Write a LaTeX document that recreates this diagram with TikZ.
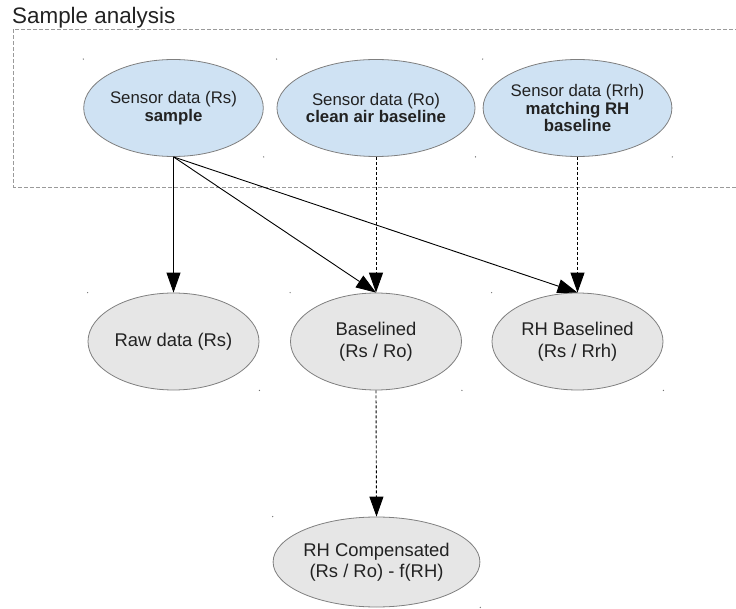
\documentclass[tikz,border=0pt]{standalone}
\usepackage{fontspec}
\setmainfont{Liberation Sans}
\usetikzlibrary{arrows.meta,shapes.geometric}
\definecolor{topfill}{HTML}{CFE2F3}
\definecolor{botfill}{HTML}{E6E6E6}
\definecolor{rim}{HTML}{7F7F7F}
\definecolor{boxline}{HTML}{9A9A9A}
\definecolor{ink}{HTML}{222222}
\begin{document}
\begin{tikzpicture}[x=1pt,y=-1pt,
  src/.style={ellipse, draw=rim, line width=0.8pt, fill=topfill,
    minimum width=171pt, minimum height=97pt, inner sep=0pt, align=center,
    font=\fontsize{16.8}{17.5}\selectfont, text=ink},
  res/.style={ellipse, draw=rim, line width=0.8pt, fill=botfill,
    minimum width=171pt, minimum height=97pt, inner sep=0pt, align=center,
    font=\fontsize{18.4}{21.5}\selectfont, text=ink},
  flow/.style={-{Triangle[length=20pt,width=14pt]}, line width=0.9pt, draw=black},
  dep/.style={flow, dash pattern=on 3pt off 2pt},
  speck/.style={fill=black!55}
]
\useasboundingbox (0,0) rectangle (736,609);

\node[anchor=base west, font=\fontsize{22.4}{25}\selectfont, text=ink, inner sep=0pt] (title) at (12,24) {Sample analysis};
\draw[boxline, line width=0.9pt, dash pattern=on 4pt off 2pt] (745,29) -- (13.5,29) -- (13.5,187) -- (745,187);

\node[src] (s) at (173.5,108) {Sensor data (Rs)\\\textbf{sample}};
\node[src] (o) at (376,108) {Sensor data (Ro)\\\textbf{clean air baseline}};
\node[src] (h) at (577.5,108) {Sensor data (Rrh)\\\textbf{matching RH}\\\textbf{baseline}};
\node[res] (raw) at (173.5,341.5) {Raw data (Rs)};
\node[res] (bl) at (376,341.5) {Baselined\\(Rs / Ro)};
\node[res] (rhb) at (577.5,341.5) {RH Baselined\\(Rs / Rrh)};
\node[res, minimum height=90pt] (comp) at (376.5,562) {RH Compensated\\(Rs / Ro) - f(RH)};

\draw[flow] (s.south) -- (raw.north);
\draw[flow] (s.south) -- (bl.north);
\draw[flow] (s.south) -- (rhb.north);
\draw[dep] (o.south) -- (bl.north);
\draw[dep] (h.south) -- (rhb.north);
\draw[dep] (bl.south) -- (comp.north);

\foreach \n in {s,o,h,raw,bl,rhb,comp}{
  \fill[speck] (\n.west |- \n.north) circle (0.7pt);
  \fill[speck] (\n.east |- \n.south) circle (0.7pt);
}
\end{tikzpicture}
\end{document}
